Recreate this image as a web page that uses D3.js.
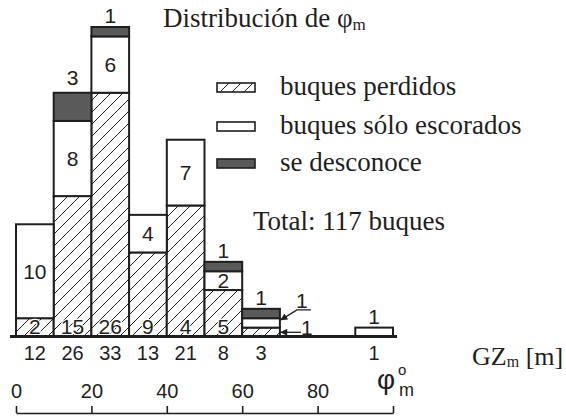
<!DOCTYPE html>
<html><head><meta charset="utf-8">
<script src="https://cdn.jsdelivr.net/npm/d3@7"></script>
<style>body{margin:0;background:#fff}svg{display:block}</style>
</head><body>
<svg id="c" width="566" height="416"></svg>
<script>
// ---- data ----
const binStart = [0, 10, 20, 30, 40, 50, 60, 90];
const binWidth = 10;
const lost = [2, 15, 26, 9, 14, 5, 1, 0];
const heeled = [10, 8, 6, 4, 7, 2, 1, 1];
const unknown = [0, 3, 1, 0, 0, 1, 1, 0];
const totals = [12, 26, 33, 13, 21, 8, 3, 1];
const lostLabels = ["2", "15", "26", "9", "4", "5", "1", ""];
const axisTicks = [0, 20, 40, 60, 80, 100];
const seriesKeys = ["lost", "heeled", "unknown"];
const seriesNames = ["buques perdidos", "buques sólo escorados", "se desconoce"];
const titleText = "Distribución de φ";
const totalText = "Total: 117 buques";
const gzLabel = "GZ";

// ---- setup ----
const SANS = "'Liberation Sans', Arial, sans-serif";
const SERIF = "'Liberation Serif', 'Times New Roman', serif";
const INK = "#1e1e1e";
const DARK = "#5a5a5a";

const svg = d3.select("#c");
const x = d3.scaleLinear().domain([0, 100]).range([16, 393]);
const y = d3.scaleLinear().domain([0, 33]).range([337, 27]);

const defs = svg.append("defs");
const pat = defs.append("pattern").attr("id", "hatch")
  .attr("patternUnits", "userSpaceOnUse").attr("width", 12).attr("height", 12);
pat.append("rect").attr("width", 12).attr("height", 12).attr("fill", "#fff");
pat.append("path").attr("d", "M0,12 L12,0 M-3,3 L3,-3 M9,15 L15,9")
  .attr("stroke", INK).attr("stroke-width", 1);
defs.append("marker").attr("id", "arr").attr("viewBox", "0 0 10 10")
  .attr("refX", 9).attr("refY", 5).attr("markerWidth", 9).attr("markerHeight", 7)
  .attr("markerUnits", "userSpaceOnUse").attr("orient", "auto")
  .append("path").attr("d", "M0,0 L10,5 L0,10 Z").attr("fill", INK);

const fills = { lost: "url(#hatch)", heeled: "#fff", unknown: DARK };

const rows = binStart.map((b, i) => ({ i, bin: b, lost: lost[i], heeled: heeled[i], unknown: unknown[i] }));
const stacked = d3.stack().keys(seriesKeys)(rows);

// bars
const segs = [];
stacked.forEach(layer => {
  layer.forEach(d => {
    const v = d[1] - d[0];
    if (v > 0) segs.push({ key: layer.key, i: d.data.i, bin: d.data.bin, y0: d[0], y1: d[1], v });
  });
});
svg.append("g").selectAll("rect").data(segs).join("rect")
  .attr("x", d => x(d.bin))
  .attr("width", d => x(d.bin + binWidth) - x(d.bin))
  .attr("y", d => y(d.y1))
  .attr("height", d => y(d.y0) - y(d.y1))
  .attr("fill", d => fills[d.key])
  .attr("stroke", INK).attr("stroke-width", 2);

// labels
const lg = svg.append("g").attr("font-family", SANS).attr("fill", INK).attr("text-anchor", "middle");
segs.forEach(d => {
  const cx = x(d.bin + binWidth / 2);
  const h = y(d.y0) - y(d.y1);
  const isTop = Math.abs(d.y1 - totals[d.i]) < 1e-9;
  const label = d.key === "lost" ? lostLabels[d.i] : String(d.v);
  if (!label) return;
  if (d.key === "unknown" || (h < 15 && isTop)) {
    lg.append("text").attr("x", cx).attr("y", y(d.y1) - (d.v > 2 ? 8 : 4))
      .attr("font-size", 21).text(label);
  } else if (h >= 15) {
    if (d.key === "lost") {
      lg.append("text").attr("x", cx).attr("y", y(0) - 3)
        .attr("font-size", 21).attr("stroke", "#fff").attr("stroke-width", 2.5)
        .attr("paint-order", "stroke").text(label);
    } else {
      lg.append("text").attr("x", cx).attr("y", (y(d.y0) + y(d.y1)) / 2 + 7.5)
        .attr("font-size", 21).text(label);
    }
  } else {
    // arrow label
    const tx = x(d.bin + binWidth) + 1;
    const ty = (y(d.y0) + y(d.y1)) / 2;
    if (d.key === "lost") {
      svg.append("path").attr("d", `M${tx + 20},${ty} L${tx},${ty}`)
        .attr("stroke", INK).attr("stroke-width", 1.3).attr("fill", "none")
        .attr("marker-end", "url(#arr)");
      lg.append("text").attr("x", tx + 26).attr("y", ty + 3)
        .attr("font-size", 21).text(label);
    } else {
      svg.append("path").attr("d", `M${tx + 30},${ty - 13} L${tx + 16},${ty - 13} L${tx},${ty - 3}`)
        .attr("stroke", INK).attr("stroke-width", 1.3).attr("fill", "none")
        .attr("marker-end", "url(#arr)");
      lg.append("text").attr("x", tx + 21).attr("y", ty - 15)
        .attr("font-size", 21).text(label);
    }
  }
});

// baseline
svg.append("line").attr("x1", x(0) - 6).attr("x2", x(100) + 4)
  .attr("y1", y(0) - 0.5).attr("y2", y(0) - 0.5)
  .attr("stroke", INK).attr("stroke-width", 3);

// totals row
svg.append("g").attr("font-family", SANS).attr("fill", INK).attr("text-anchor", "middle")
  .selectAll("text").data(totals).join("text")
  .attr("x", (d, i) => x(binStart[i] + binWidth / 2))
  .attr("y", 360).attr("font-size", 20).text(d => d);

// GZm [m]
const gz = svg.append("text").attr("x", 472).attr("y", 365)
  .attr("font-family", SERIF).attr("font-size", 26).attr("fill", INK);
gz.append("tspan").text(gzLabel);
gz.append("tspan").attr("font-size", 16).attr("dy", 2).text("m");
gz.append("tspan").attr("dy", -2).text(" [m]");

// bottom axis
const ax = svg.append("g").attr("transform", "translate(0,413)")
  .call(d3.axisTop(x).tickValues(axisTicks).tickSizeInner(7).tickSizeOuter(0).tickPadding(8)
    .tickFormat(d => d === 100 ? "" : d));
ax.select(".domain").attr("stroke", INK).attr("stroke-width", 1.6);
ax.selectAll(".tick line").attr("stroke", INK).attr("stroke-width", 1.6);
ax.selectAll(".tick text").attr("font-family", SANS).attr("font-size", 20).attr("fill", INK);

// φ°m label
const phi = svg.append("g").attr("font-family", SANS).attr("fill", INK);
phi.append("text").attr("x", 377).attr("y", 389).attr("font-size", 28).text("φ");
phi.append("text").attr("x", 398).attr("y", 375).attr("font-size", 15).text("o");
phi.append("text").attr("x", 399).attr("y", 396).attr("font-size", 18).text("m");

// title
const t = svg.append("text").attr("x", 163).attr("y", 27)
  .attr("font-family", SERIF).attr("font-size", 27).attr("fill", INK);
t.append("tspan").text(titleText);
t.append("tspan").attr("font-size", 17).attr("dy", 3).text("m");

// legend
const legY = [83, 122, 159];
const lgd = svg.append("g");
seriesKeys.forEach((k, i) => {
  lgd.append("rect").attr("x", 217).attr("y", legY[i]).attr("width", 38).attr("height", 9)
    .attr("fill", fills[k]).attr("stroke", INK).attr("stroke-width", 1.6);
  lgd.append("text").attr("x", 280).attr("y", legY[i] + 12)
    .attr("font-family", SERIF).attr("font-size", 27).attr("fill", INK).text(seriesNames[i]);
});
svg.append("text").attr("x", 253).attr("y", 230)
  .attr("font-family", SERIF).attr("font-size", 27).attr("fill", INK).text(totalText);
</script>
</body></html>
